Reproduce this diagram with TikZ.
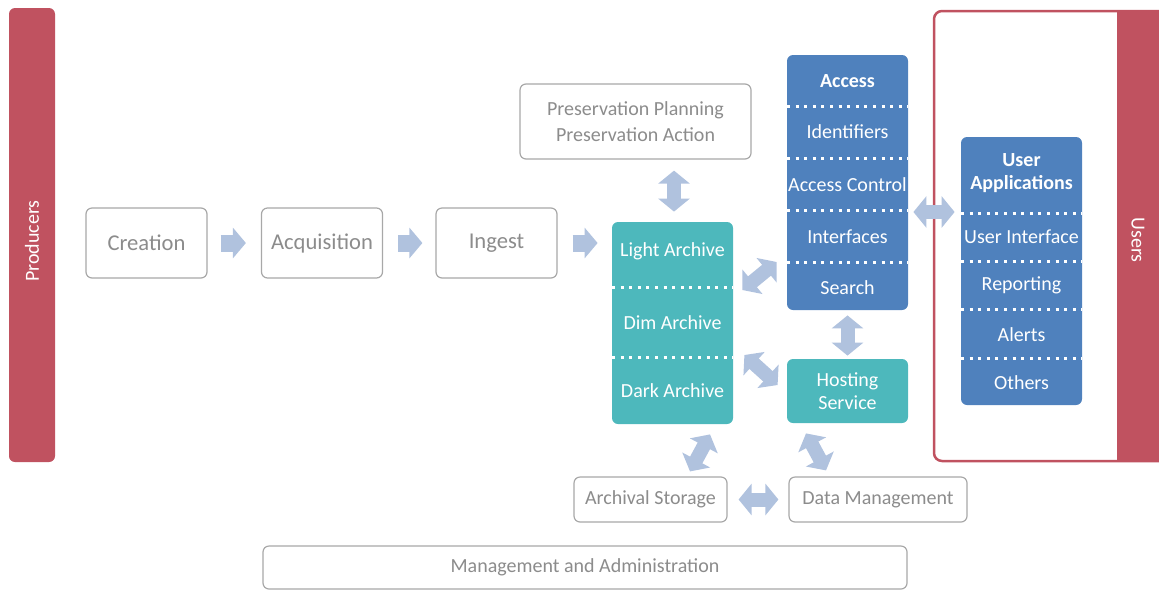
\documentclass[tikz,border=0pt]{standalone}
\usepackage{fontspec}
\setmainfont{Carlito}
\usetikzlibrary{arrows.meta,calc}
\definecolor{barred}{RGB}{192,82,96}
\definecolor{archteal}{RGB}{77,184,188}
\definecolor{accblue}{RGB}{79,129,189}
\definecolor{arrcol}{RGB}{176,194,222}
\definecolor{boxgray}{RGB}{168,168,168}
\definecolor{txtgray}{RGB}{140,140,140}
\begin{document}
\begin{tikzpicture}[x=0.5pt,y=-0.5pt,
    outbox/.style={draw=boxgray, line width=0.6pt, rounded corners=3pt, fill=white, text=txtgray, align=center, inner sep=0pt, font=\fontsize{10pt}{13pt}\selectfont},
    bigbox/.style={outbox, minimum width=60.5pt, minimum height=35pt, font=\fontsize{11.3pt}{13pt}\selectfont},
    tealbox/.style={fill=archteal, rounded corners=3pt, inner sep=0pt, minimum width=60.5pt},
    bluebox/.style={fill=accblue, rounded corners=3pt, inner sep=0pt, minimum width=60.5pt},
    lbl/.style={text=white, align=center, inner sep=0pt, font=\fontsize{10pt}{11.5pt}\selectfont},
    dots/.style={white, line width=1.5pt, dash pattern=on 1.5pt off 2.8pt},
    flow/.style={arrcol, line width=8.5pt, -{Triangle[width=15pt,length=6.5pt]}},
    dbl/.style={arrcol, line width=7pt, {Triangle[width=15.5pt,length=6.5pt]}-{Triangle[width=15.5pt,length=6.5pt]}}]
    \useasboundingbox (0,0) rectangle (1159,590);
    % side bars
    \fill [barred, rounded corners=3pt] (9,8) rectangle (55,462);
    \node [lbl, rotate=90] (prod) at (32,241) {Producers};
    \draw [barred, line width=1.25pt, rounded corners=4pt] (1170,11) -- (934,11) -- (934,461) -- (1170,461);
    \fill [barred] (1117,11) rectangle (1159,461);
    \node [lbl, rotate=-90] (users) at (1138,240) {Users};
    % flow boxes
    \node [bigbox] (creation) at (146.5,243) {Creation};
    \node [bigbox] (acq) at (322,243) {Acquisition};
    \node [bigbox] (ingest) at (496.5,243) {Ingest};
    \node [outbox, minimum width=115.5pt, minimum height=37.5pt] (pres) at (635.5,121.5) {Preservation Planning\\Preservation Action};
    % archive
    \node [tealbox, minimum height=101pt] (arch) at (672.5,323) {};
    \draw [dots] (612,287) -- (733,287);
    \draw [dots] (612,357) -- (733,357);
    \node [lbl] (light) at (672.5,251) {Light Archive};
    \node [lbl] (dim) at (672.5,323) {Dim Archive};
    \node [lbl] (dark) at (672.5,391) {Dark Archive};
    % access
    \node [bluebox, minimum height=127.5pt] (access) at (847.5,182.5) {};
    \foreach \y in {106,158,210,262}
        \draw [dots] (787,\y) -- (908,\y);
    \node [lbl, font=\fontsize{10pt}{11.5pt}\selectfont\bfseries] (acctitle) at (847.5,81) {Access};
    \node [lbl] (ident) at (847.5,132) {Identifiers};
    \node [lbl] (actrl) at (847.5,185) {Access Control};
    \node [lbl] (iface) at (847.5,237) {Interfaces};
    \node [lbl] (search) at (847.5,288) {Search};
    \node [tealbox, minimum height=32pt, lbl] (host) at (847.5,391) {Hosting\\Service};
    % user applications
    \node [bluebox, minimum height=134pt] (apps) at (1021.5,271) {};
    \foreach \y in {213,261,309,358}
        \draw [dots] (961,\y) -- (1082,\y);
    \node [lbl, font=\fontsize{10pt}{11.5pt}\selectfont\bfseries] (appstitle) at (1021.5,173.5) {User\\Applications};
    \node [lbl] (uiface) at (1021.5,237) {User Interface};
    \node [lbl] (report) at (1021.5,285) {Reporting};
    \node [lbl] (alerts) at (1021.5,335) {Alerts};
    \node [lbl] (others) at (1021.5,383) {Others};
    % storage and management
    \node [outbox, minimum width=76.5pt, minimum height=22.5pt] (store) at (650.5,499.5) {Archival Storage};
    \node [outbox, minimum width=89pt, minimum height=22.5pt] (dm) at (878,499.5) {Data Management};
    \node [outbox, minimum width=322pt, minimum height=21.5pt] (mgmt) at (585,567.5) {Management and Administration};
    % arrows
    \draw [flow] ($(creation.east)+(13,0)$) -- ($(acq.west)+(-15,0)$);
    \draw [flow] ($(acq.east)+(15,0)$) -- ($(ingest.west)+(-13,0)$);
    \draw [flow] ($(ingest.east)+(15,0)$) -- ($(arch.west |- ingest.east)+(-14,0)$);
    \draw [dbl] ($(pres.south)+(38.5,11)$) -- ($(arch.north)+(1.5,-10)$);
    \draw [dbl] ($(arch.east)+(9,-33)$) -- ($(access.west)+(-10,79.5)$);
    \draw [dbl] ($(arch.east)+(11,32)$) -- ($(host.west)+(-9,-6)$);
    \draw [dbl] ($(access.south)+(0,5)$) -- ($(host.north)+(0,-3)$);
    \draw [dbl] ($(access.east)+(5,29.5)$) -- ($(apps.west)+(-6,-59)$);
    \draw [dbl] ($(arch.south)+(37.5,10)$) -- ($(store.north)+(39.5,-5)$);
    \draw [dbl] ($(host.south)+(-41.5,10)$) -- ($(dm.north)+(-52,-6)$);
    \draw [dbl] ($(store.east)+(11,0)$) -- ($(dm.west)+(-10,0)$);
\end{tikzpicture}
\end{document}
